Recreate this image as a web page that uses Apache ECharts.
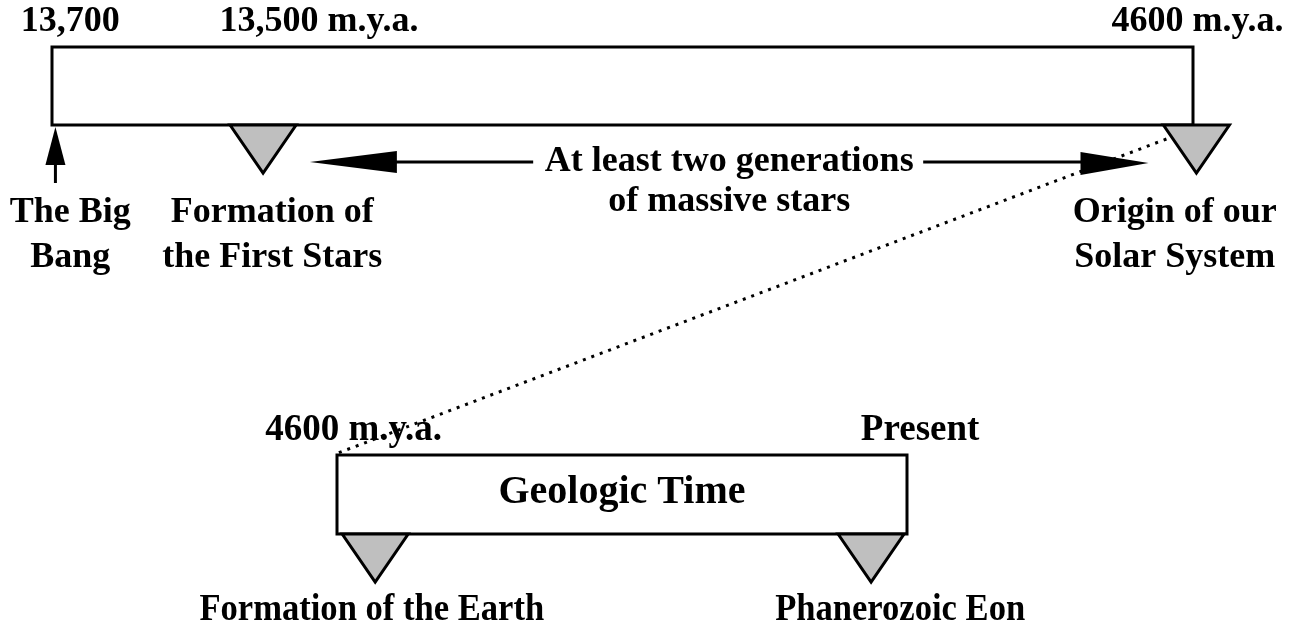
<!DOCTYPE html>
<html>
<head>
<meta charset="utf-8">
<title>Cosmic time and geologic time</title>
<script src="https://cdn.jsdelivr.net/npm/echarts@6/dist/echarts.min.js"></script>
<style>
html, body { margin: 0; padding: 0; background: #fff; }
#chart { width: 1299px; height: 629px; }
</style>
</head>
<body>
<div id="chart"></div>
<script>
// positions are percent of each bar's length (the drawing is not to scale)
var cosmicTicks = ['13,700', '13,500 m.y.a.', '4600 m.y.a.'];
var cosmicTickAt = [1.6, 23.4, 100.4];
var cosmicEvents = ['The Big\nBang', 'Formation of\nthe First Stars', 'Origin of our\nSolar System'];
var cosmicEventAt = [0.3, 18.5, 100.3];
var cosmicEventLabelAt = [1.6, 19.3, 98.4];
var cosmicMarkers = ['arrow', 'triangle', 'triangle'];
var cosmicSpan = [22.6, 96.1];
var cosmicSpanText = 'At least two generations\nof massive stars';

var geoTitle = 'Geologic Time';
var geoTicks = ['4600 m.y.a.', 'Present'];
var geoTickAt = [2.9, 102.3];
var geoEvents = ['Formation of the Earth', 'Phanerozoic Eon'];
var geoEventAt = [6.7, 93.7];
var geoEventLabelAt = [6.1, 98.8];
var geoMarkers = ['triangle', 'triangle'];

var INK = '#000';
var GRAY = '#bfbfbf';
var FONT = "'Liberation Serif', 'Times New Roman', serif";

function txt(text, size, lh) {
	return {
		text: text,
		fontFamily: FONT,
		fontWeight: 'bold',
		fontSize: size,
		lineHeight: lh || size,
		fill: INK,
		align: 'center',
		verticalAlign: 'middle'
	};
}

// the bar itself (plus an optional title inside)
function barItem(title, titleSize) {
	return function(params, api) {
		var a = api.coord([api.value(0), 1]);
		var b = api.coord([api.value(1), 0]);
		var kids = [{
			type: 'rect',
			shape: { x: a[0], y: a[1], width: b[0] - a[0], height: b[1] - a[1] },
			style: { fill: '#fff', stroke: INK, lineWidth: 3 }
		}];
		if (title) {
			var c = api.coord([(api.value(0) + api.value(1)) / 2, 0.5]);
			kids.push({ type: 'text', x: c[0], y: c[1] - 2, style: txt(title, titleSize) });
		}
		return { type: 'group', children: kids };
	};
}

// dates written above the bar
function tickItem(labels, size) {
	return function(params, api) {
		var p = api.coord([api.value(0), 1]);
		return { type: 'text', x: p[0], y: p[1] - 25, style: txt(labels[params.dataIndex], size) };
	};
}

// markers hanging under the bar and their captions
function eventItem(labels, markers, cfg) {
	return function(params, api) {
		var i = params.dataIndex;
		var m = api.coord([api.value(0), 0]);
		var l = api.coord([api.value(1), 0]);
		var x = m[0], y = m[1];
		var kids = [];
		if (markers[i] == 'triangle') {
			kids.push({
				type: 'polygon',
				shape: { points: [[x - 33, y], [x + 33, y], [x, y + 48]] },
				style: { fill: GRAY, stroke: INK, lineWidth: 3, lineJoin: 'miter' }
			});
		} else {
			kids.push({ type: 'line', shape: { x1: x, y1: y + 30, x2: x, y2: y + 58 }, style: { stroke: INK, lineWidth: 3 } });
			kids.push({ type: 'polygon', shape: { points: [[x, y + 2], [x - 10, y + 40], [x + 10, y + 40]] }, style: { fill: INK } });
		}
		kids.push({
			type: 'text', x: l[0], y: y + cfg.dy, scaleX: cfg.scaleX || 1,
			style: txt(labels[i], cfg.size, cfg.lineHeight)
		});
		return { type: 'group', children: kids };
	};
}

// double arrow with the text in its middle
function spanItem(text) {
	return function(params, api) {
		var a = api.coord([api.value(0), 0]);
		var b = api.coord([api.value(1), 0]);
		var y = a[1] + 37;
		var mid = (a[0] + b[0]) / 2;
		var line = { stroke: INK, lineWidth: 3 };
		return {
			type: 'group',
			children: [
				{ type: 'line', shape: { x1: a[0] + 85, y1: y, x2: mid - 196, y2: y }, style: line },
				{ type: 'line', shape: { x1: mid + 194, y1: y, x2: b[0] - 66, y2: y }, style: line },
				{ type: 'polygon', shape: { points: [[a[0], y], [a[0] + 87, y - 11], [a[0] + 87, y + 11]] }, style: { fill: INK } },
				{ type: 'polygon', shape: { points: [[b[0], y + 1], [b[0] - 68, y - 10], [b[0] - 68, y + 13]] }, style: { fill: INK } },
				{ type: 'text', x: mid, y: y + 20, style: txt(text, 36, 40) }
			]
		};
	};
}

function custom(grid, data, render) {
	return {
		type: 'custom',
		xAxisIndex: grid,
		yAxisIndex: grid,
		clip: false,
		silent: true,
		data: data,
		renderItem: render
	};
}

var chart = echarts.init(document.getElementById('chart'));

var option = {
	backgroundColor: '#fff',
	animation: false,
	grid: [
		{ left: 52, top: 47, width: 1141, height: 78 },
		{ left: 337, top: 455, width: 570, height: 79 }
	],
	xAxis: [
		{ gridIndex: 0, type: 'value', min: 0, max: 100, show: false },
		{ gridIndex: 1, type: 'value', min: 0, max: 100, show: false }
	],
	yAxis: [
		{ gridIndex: 0, type: 'value', min: 0, max: 1, show: false },
		{ gridIndex: 1, type: 'value', min: 0, max: 1, show: false }
	],
	series: [
		custom(0, [[0, 100]], barItem(null)),
		custom(0, cosmicTickAt.map(function(p) { return [p]; }), tickItem(cosmicTicks, 36)),
		custom(0, cosmicEventAt.map(function(p, i) { return [p, cosmicEventLabelAt[i]]; }),
			eventItem(cosmicEvents, cosmicMarkers, { size: 36, lineHeight: 45, dy: 110 })),
		custom(0, [cosmicSpan], spanItem(cosmicSpanText)),
		custom(1, [[0, 100]], barItem(geoTitle, 40)),
		custom(1, geoTickAt.map(function(p) { return [p]; }), tickItem(geoTicks, 37)),
		custom(1, geoEventAt.map(function(p, i) { return [p, geoEventLabelAt[i]]; }),
			eventItem(geoEvents, geoMarkers, { size: 38, lineHeight: 38, dy: 76, scaleX: 0.91 }))
	]
};
chart.setOption(option);

// dotted line: from the solar-system marker down to the start of geologic time
var from = chart.convertToPixel({ gridIndex: 0 }, [cosmicEventAt[2], 0]);
var to = chart.convertToPixel({ gridIndex: 1 }, [0, 1]);
chart.setOption({
	graphic: [{
		type: 'line',
		silent: true,
		shape: { x1: from[0] - 30, y1: from[1] + 14, x2: to[0] + 1, y2: to[1] - 2 },
		style: { stroke: INK, lineWidth: 3, lineDash: [3, 6] },
		z: 10
	}]
});
</script>
</body>
</html>
